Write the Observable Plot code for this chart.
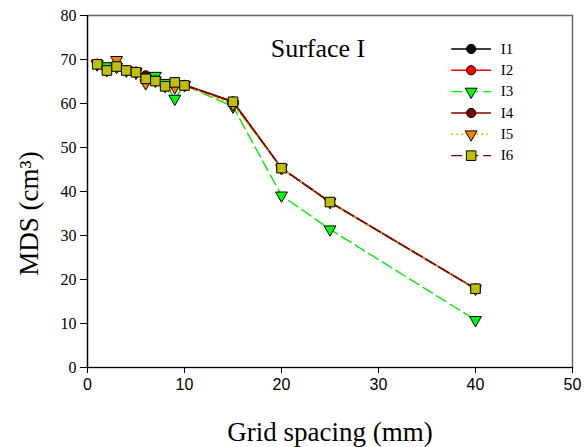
<!DOCTYPE html>
<html>
<head>
<meta charset="utf-8">
<script src="https://cdn.jsdelivr.net/npm/d3@7"></script>
<script src="https://cdn.jsdelivr.net/npm/@observablehq/plot@0.6"></script>
<style>
  body { margin: 0; background: #fff; }
  #chart { width: 586px; height: 447px; }
</style>
</head>
<body>
<div id="chart"></div>
<script>
// ---- data ----
const gridSpacing = [1, 2, 3, 4, 5, 6, 7, 8, 9, 10, 15, 20, 25, 40];
const seriesNames = ["I1", "I2", "I3", "I4", "I5", "I6"];
const I1 = [69.0, 67.6, 68.5, 67.6, 67.2, 65.9, 65.2, 64.0, 64.8, 64.2, 60.4, 45.3, 37.6, 17.9];
const I2 = [69.0, 67.7, 68.5, 67.6, 67.2, 66.4, 65.3, 64.1, 64.8, 64.2, 60.4, 45.3, 37.6, 17.9];
const I3 = [68.9, 68.5, 68.3, 67.5, 67.0, 65.6, 66.3, 64.7, 61.1, 64.2, 59.3, 39.1, 31.4, 10.8];
const I4 = [69.0, 67.6, 68.5, 67.6, 67.2, 66.1, 65.2, 64.0, 64.8, 64.2, 60.4, 45.3, 37.6, 17.9];
const I5 = [69.0, 67.6, 69.9, 67.6, 67.2, 64.6, 65.2, 64.0, 63.7, 64.2, 59.8, 45.3, 37.6, 17.9];
const I6 = [68.9, 67.5, 68.4, 67.5, 67.1, 65.6, 65.1, 63.9, 64.8, 64.1, 60.4, 45.3, 37.6, 17.9];
const seriesValues = [I1, I2, I3, I4, I5, I6];
const xTicks = [0, 10, 20, 30, 40, 50];
const yTicks = [0, 10, 20, 30, 40, 50, 60, 70, 80];
const chartTitle = "Surface I";
const xTitle = "Grid spacing (mm)";
const yTitle = "MDS (cm\u00B3)";

// ---- styles ----
const styles = {
  I1: {stroke: "#000000", fill: "#000000", symbol: "circle", rotate: 0, dash: null},
  I2: {stroke: "#ff0000", fill: "#ff0000", symbol: "circle", rotate: 0, dash: null},
  I3: {stroke: "#00ee00", fill: "#00ff00", symbol: "triangle", rotate: 180, dash: "11,5"},
  I4: {stroke: "#800000", fill: "#800000", symbol: "circle", rotate: 0, dash: null},
  I5: {stroke: "#c8c800", fill: "#ff8000", symbol: "triangle", rotate: 180, dash: "2,3"},
  I6: {stroke: "#800000", fill: "#c0c000", symbol: "square", rotate: 0, dash: "11,5"}
};
const symR = {circle: 4.6, triangle: 4.4, square: 5.4};
const serif = "'Liberation Serif', 'Times New Roman', serif";
const sans = "'Liberation Sans', Arial, sans-serif";

// legend / label anchors (data units)
const legX1 = 37.5, legX2 = 41.6, legXm = 39.55, legXt = 42.6, legTop = 72.4, legStep = 4.85;
const yTitleX = -6.0, yTitleY = 35.0;

const rows = seriesNames.flatMap((name, i) =>
  gridSpacing.map((x, j) => ({series: name, x, y: seriesValues[i][j]})));
const legendRows = seriesNames.map((name, i) => ({series: name, y: legTop - i * legStep}));

const marks = [];
for (const name of seriesNames) {
  const s = styles[name];
  const data = rows.filter(d => d.series === name);
  marks.push(Plot.line(data, {x: "x", y: "y", stroke: s.stroke, strokeWidth: 1.4,
    strokeDasharray: s.dash ?? undefined}));
  marks.push(Plot.dot(data, {x: "x", y: "y", symbol: () => s.symbol, r: symR[s.symbol],
    fill: s.fill, stroke: "#000", strokeWidth: 1, rotate: s.rotate}));
}
// legend
for (const name of seriesNames) {
  const s = styles[name];
  const lr = legendRows.filter(d => d.series === name);
  marks.push(Plot.link(lr, {x1: () => legX1, x2: () => legX2, y1: "y", y2: "y",
    stroke: s.stroke, strokeWidth: 1.4, strokeDasharray: s.dash ?? undefined}));
  marks.push(Plot.dot(lr, {x: () => legXm, y: "y", symbol: () => s.symbol, r: symR[s.symbol],
    fill: s.fill, stroke: "#000", strokeWidth: 1, rotate: s.rotate}));
  marks.push(Plot.text(lr, {x: () => legXt, y: "y", text: "series", textAnchor: "start",
    fontSize: 15, fill: "#000"}));
}

const chart = Plot.plot({
  width: 586,
  height: 447,
  marginLeft: 87,
  marginRight: 14,
  marginTop: 15,
  marginBottom: 80,
  style: {background: "#fff", color: "#000", fontFamily: serif},
  x: {domain: [0, 50]},
  y: {domain: [0, 80]},
  marks: [
    Plot.frame({stroke: "#666", strokeWidth: 1.5}),
    Plot.axisX({ticks: xTicks, tickSize: 6, tickPadding: 5, label: null,
      fontSize: 16, tickFormat: d => String(d)}),
    Plot.axisY({ticks: yTicks, tickSize: 7, tickPadding: 4, label: null,
      fontSize: 16, tickFormat: d => String(d)}),
    Plot.ruleX([0], {stroke: "#000", strokeWidth: 1.2}),
    Plot.ruleY([0], {stroke: "#000", strokeWidth: 1.2}),
    ...marks,
    Plot.text([chartTitle], {frameAnchor: "top", lineAnchor: "bottom", dx: -12, dy: 41,
      fontSize: 26, fill: "#000"}),
    Plot.text([xTitle], {frameAnchor: "bottom", lineAnchor: "bottom", dy: 73,
      fontSize: 27, fill: "#000"}),
    Plot.text([yTitle], {x: () => yTitleX, y: () => yTitleY, textAnchor: "middle",
      lineAnchor: "middle", rotate: -90, fontSize: 27, fill: "#000"})
  ]
});
const svg = d3.select(chart);
svg.selectAll("text").style("font-family", serif);
svg.selectAll('g[aria-label="x-axis tick label"] text').style("font-family", sans);
document.getElementById("chart").appendChild(chart);
</script>
</body>
</html>
